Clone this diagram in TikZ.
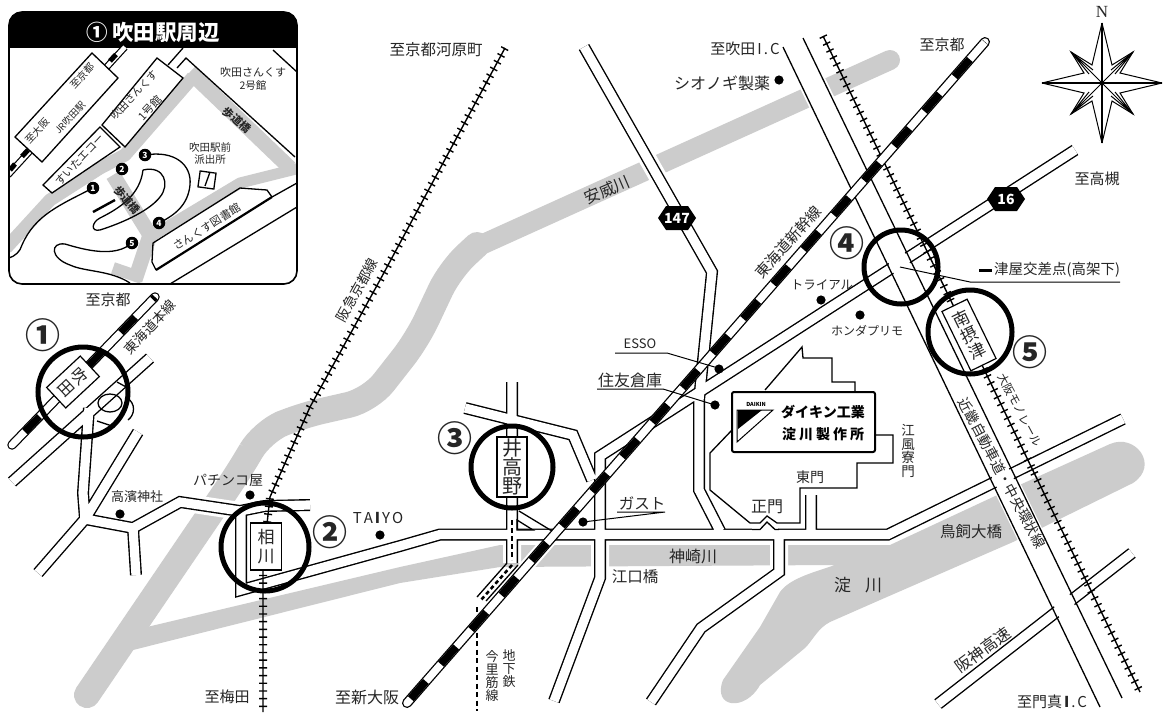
\documentclass[tikz,border=0pt]{standalone}
\usepackage{fontspec}
\setmainfont{Noto Sans CJK JP}
\newfontfamily\serifN{Liberation Serif}
\newcommand{\fs}[1]{\fontsize{#1}{#1}\selectfont}
\colorlet{riv}{black!20}
\colorlet{ink}{black!85}
\tikzset{
  txt/.style={inner sep=0pt,outer sep=0pt,text=ink,font=\fs{15}},
  txts/.style={inner sep=0pt,outer sep=0pt,text=ink,font=\fs{10.5}},
  vert/.style={inner sep=0pt,outer sep=0pt,text=ink,align=center,font=\fs{13.5}},
  num/.style={inner sep=0pt,outer sep=0pt,text=ink,font=\bfseries\fs{35}},
  ring/.style={draw=black,line width=5pt},
  stn/.style={draw=black,fill=white,line width=1.2pt,inner sep=0pt,align=center,text=ink,font=\fs{18}},
  dot/.style={fill=black},
  thin/.style={draw=black,line width=1.3pt},
  hexnum/.style={inner sep=0pt,text=white,font=\bfseries\itshape\fs{14}},
  idot/.style={circle,fill=black,inner sep=0pt,minimum size=12.5pt,text=white,font=\bfseries\fs{8.5}},
}
\def\roads{
 (584,47)--(712,272)--(699,400)--(699,490)--(720,531)
 (1075,150)--(600,456)--(600,578)--(554,701)
 (241,513)--(241,590)--(400,546)--(440,534.5)--(888,534.5)--(1123,419)
 (310,505)--(265,506)--(240,511)--(180,502)--(133,528)--(85,519)--(38,573)
 (133,528)--(136,575)
 (89,408)--(83,493)--(85,519)
 (85,519)--(138,432)
 (12,482)--(150,358)
 (512,382)--(512,563)
 (465,408)--(573,435)--(592,480)
 (779,534)--(779,572)--(701,628)--(651,702)
 (811,495)--(811,534)
 (1132,553)--(938,704)
}
\def\hwy{(793,42.5)--(1111,702.5)}
\def\mainrail{(407,703)--(985,42)}
\def\jrrail{(12,445)--(155,297)}
\def\kyotoline{(505,48)--(380,280)--(310,407)--(270,497)--(263,560)--(263,712)}
\def\monoline{(823,36)--(1140,692)}
\begin{document}
\begin{tikzpicture}[x=1pt,y=-1pt]
\useasboundingbox (0,0) rectangle (1166,713);
\fill[white] (0,0) rectangle (1166,713);
% rivers
\draw[riv,line width=26pt,line cap=round,rounded corners=22pt] (87,695)--(240,470)--(262,432)--(300,416)--(370,400)--(417,340)--(450,270)--(477,245);
\draw[riv,line width=20pt,line cap=round] (470,250)--(890,60);
\fill[riv] (130,642)--(147,627)--(400,567)--(500,545)--(890,545)--(993,497)--(1110,444)
 .. controls (1135,433) and (1160,465) .. (1133,483)
 --(1013,542)--(880,600)--(830,622) .. controls (818,628) and (813,640) .. (805,648)
 --(760,685) .. controls (745,712) and (712,708) .. (723,680)
 --(760,627)--(780,592) .. controls (790,578) and (815,572) .. (835,565)--(500,567)--(400,583)--(133,650)--cycle;
% casings over water
\draw[white,line width=27pt] \hwy;
\draw[white,line width=18pt] \roads;
\draw[white,line width=14pt] \mainrail;
% roads
\draw[black,line width=12pt] \roads;
\draw[white,line width=9.2pt] \roads;
% main gate notch
\fill[white] (752,527) rectangle (778,531.5);
\draw[thin] (752,529.5)--(760,529.5)--(767,522)--(775,529.5)--(779,529.5);
% highway
\draw[white,line width=19pt] \hwy;
\draw[thin] (783,47)--(1100,707);
\draw[thin] (803,38)--(1122,698);
% subway
\draw[black,line width=1.6pt,dash pattern=on 5pt off 3pt] (512,520)--(512,560);
\draw[black,line width=1.6pt,dash pattern=on 5pt off 3.5pt] (477,607)--(477,711);
\draw[thin] (507,563)--(477,597) (518,565)--(486,601);
\draw[black,line width=2.6pt,dash pattern=on 4pt off 3pt] (512,565)--(481,600);
\draw[thin] (517,520)--(533,530)--(517,530)--cycle (519,511)--(552,531);
% ticked lines
\draw[black,line width=1.4pt] \kyotoline;
\draw[black,line width=8pt,dash pattern=on 1.4pt off 6.3pt] \kyotoline;
\draw[black,line width=1.4pt] \monoline;
\draw[black,line width=8pt,dash pattern=on 1.4pt off 6.3pt] \monoline;
% rails
\draw[black,line width=10pt,line cap=round] \mainrail;
\draw[white,line width=7.4pt,line cap=round] \mainrail;
\draw[black,line width=7.6pt,dash pattern=on 23pt off 22.9pt,dash phase=40.2pt] \mainrail;
\draw[black,line width=9.5pt,line cap=round] \jrrail;
\draw[white,line width=7pt,line cap=round] \jrrail;
\draw[black,line width=7.2pt,dash pattern=on 21pt off 25pt,dash phase=27.5pt] \jrrail;
% details near station 1
\draw[thin] (110,403) ellipse (12 and 9);
\draw[thin] (97,421)--(115,427) (117,382)--(128,388)--(124,376);
\draw[thin] (127,398) .. controls (136,403) and (135,415) .. (128,420);
% Daikin grounds
\draw[thin] (855,392)--(855,382)--(832,382)--(832,358)--(803,358)--(802,347)--(765,390);
\draw[thin] (876,435)--(893,435)--(893,463)--(857,463)--(857,488)--(800,488)--(800,523)--(777,523)--(767,516)--(760,523)--(750,523)--(710,490)--(710,453)--(732,430);
% daikin box
\node[draw=black,fill=white,line width=2pt,rounded corners=2pt,minimum width=143pt,minimum height=60pt,inner sep=0pt] (dk) at (803.5,422) {};
\fill[black] (738,410)--(762,410)--(738,429)--cycle;
\draw[black,line width=1pt] (737,442)--(737,410)--(773,410)--cycle;
\node[inner sep=0pt,text=black,font=\bfseries\itshape\fs{5.5}] (dklogo) at (756,404.5) {DAIKIN};
\node[inner sep=0pt,text=black,font=\bfseries\fs{14}] (dk1) at (823,412) {ダイキン工業};
\node[inner sep=0pt,text=black,font=\bfseries\fs{14}] (dk2) at (823,434) {淀\kern3pt川\kern3pt製\kern3pt作\kern3pt所};
% stations
\node[stn,rotate=-47,minimum width=28pt,minimum height=46pt,text width=18pt,font=\fs{16}] (s1) at (73,382) {吹\\[1pt]田};
\node[stn,minimum width=31pt,minimum height=47pt,font=\fs{17},text width=20pt] (s2) at (266,546.5) {相\\[2pt]川};
\node[stn,minimum width=30pt,minimum height=60pt,text width=22pt,font=\fs{20}] (s3) at (512,467) {井\\[-1pt]高\\[-1pt]野};
\node[stn,rotate=26,minimum width=28pt,minimum height=66pt,text width=20pt,font=\fs{17}] (s5) at (969,335) {南\\[1pt]摂\\[1pt]津};
% rings
\draw[ring] (83,392) circle (45);
\draw[ring] (265,547) circle (44);
\draw[ring] (512,467) circle (41);
\draw[ring] (901,267) circle (37);
\draw[ring] (970,332) circle (42);
\node[num] (c1) at (43,335) {①};
\node[num] (c2) at (330,532) {②};
\node[num] (c3) at (455,438) {③};
\node[num] (c4) at (847,243) {④};
\node[num] (c5) at (1030,352) {⑤};
% hex signs
\fill[black] (658,218)--(666,206)--(688,206)--(696,218)--(688,230)--(666,230)--cycle;
\node[hexnum] (h147) at (677,218) {147};
\fill[black] (987,199)--(995,187)--(1017,187)--(1025,199)--(1017,211)--(995,211)--cycle;
\node[hexnum] (h16) at (1006,199) {16};
% dots
\foreach \x/\y in {779/80,821/300,860/315,719/369,715/405,583/522,380/535,250/495,120/514}{\fill[dot] (\x,\y) circle (4.6);}
% leaders
\draw[black,line width=1pt] (615,353)--(667,353)--(718,368);
\draw[black,line width=1pt] (597,389)--(663,389)--(715,405);
\draw[black,line width=1pt] (617,512)--(665,512)--(583,522);
\draw[black,line width=1pt] (900,267)--(970,282)--(1120,282);
\draw[black,line width=3pt] (979,270)--(992,270);
% labels
\node[txt,font=\fs{15.5}] (l1) at (436,50) {至京都河原町};
\node[txt] (l2) at (745,49) {至吹田\kern2pt I\kern2pt.\kern2pt C};
\node[txt,font=\fs{16}] (l3) at (722,83) {シオノギ製薬};
\node[txt] (l4) at (942,45) {至京都};
\node[txt] (l5) at (1097,179) {至高槻};
\node[txt,font=\fs{14.5}] (l6) at (1057,270) {津屋交差点(高架下)};
\node[txt,font=\fs{12.5}] (l7) at (822,285) {トライアル};
\node[txt,font=\fs{12}] (l8) at (867,331) {ホンダプリモ};
\node[txt,font=\fs{13}] (l9) at (640,344) {ESSO};
\node[txt,font=\fs{16}] (l10) at (630,380) {住友倉庫};
\node[vert] (l11) at (908,451) {江\\風\\寮\\門};
\node[txt,font=\fs{14}] (l12) at (810,477) {東門};
\node[txt,font=\fs{16}] (l13) at (767,507) {正門};
\node[txt,font=\fs{15.5}] (l14) at (642,503) {ガスト};
\node[txt,font=\fs{15.5}] (l15) at (635,577) {江口橋};
\node[txt,font=\fs{16}] (l16) at (693,556) {神崎川};
\node[vert,font=\fs{13}] (l17) at (509,669) {地\\下\\鉄};
\node[vert,font=\fs{13}] (l18) at (492,676) {今\\里\\筋\\線};
\node[txt] (l19) at (378,518) {T\kern2pt A\kern2pt\textbf{I}\kern2pt Y\kern2pt O};
\node[txt,font=\fs{14}] (l20) at (228,480) {パチンコ屋};
\node[txt,font=\fs{13}] (l21) at (137,497) {高濱神社};
\node[txt] (l22) at (108,300) {至京都};
\node[txt] (l23) at (227,697) {至梅田};
\node[txt,font=\fs{16}] (l24) at (367,697) {至新大阪};
\node[txt,rotate=47,font=\fs{13.5}] (l25) at (150,327) {東海道本線};
\node[txt,rotate=61,font=\fs{14}] (l26) at (357,290) {阪急京都線};
\node[txt,rotate=48] (l27) at (788,242) {東海道新幹線};
\node[txt,rotate=23,font=\fs{16}] (l28) at (607,190) {安威川};
\node[txt,font=\fs{17}] (l29) at (858,585) {淀\kern14pt川};
\node[txt,font=\fs{15.5}] (l30) at (971,532) {鳥飼大橋};
\node[txt,rotate=36,font=\fs{16}] (l31) at (983,650) {阪神高速};
\node[txt] (l32) at (1052,702) {至門真\kern2pt\textbf{I}\kern2pt.\kern2pt C};
\node[txt,rotate=-62,font=\fs{14}] (l33) at (1002,473) {近畿自動車道・中央環状線};
\node[txt,rotate=-62,font=\fs{11.5}] (l34) at (1020,410) {大阪モノレール};
\node[inner sep=0pt,text=ink,font=\serifN\fs{17}] (ln) at (1102,12) {N};
% compass
\begin{scope}[shift={(1102,83)}]
\foreach \a in {0,90,180,270}{
 \begin{scope}[rotate=\a]
 \draw[black,line width=1pt] (0,-60)--(10,-18)--(31,-31)--(18,-10)--(60,0);
 \draw[black,line width=1.8pt] (0,0)--(0,-60);
 \draw[black,line width=1pt] (0,0)--(31,-31) (9,-13)--(31,-31) (13,-9)--(31,-31);
 \end{scope}}
\end{scope}
% inset
\fill[white,rounded corners=13pt] (9,12) rectangle (297,284);
\begin{scope}
\clip[rounded corners=13pt] (9,12) rectangle (297,284);
\fill[black] (9,12) rectangle (297,48);
\draw[riv,line width=13pt,line join=round] (6,248)--(50,200)--(100,168)--(125,155)--(193,77);
\draw[riv,line width=15pt,line join=round] (190,72)--(290,168);
\draw[riv,line width=11pt,line join=round] (300,168)--(240,183)--(150,237);
\draw[riv,line width=15pt,line join=round] (113,175)--(150,235)--(135,280);
\draw[riv,line width=12pt] (113,268)--(142,278);
% outlines
\draw[thin] (177,68)--(186,58)--(295,157);
\draw[thin] (273,50)--(297,72);
\draw[thin] (153,243)--(240,188)--(267,190)--(272,197);
\draw[thin] (153,243)--(152,262)--(156,270);
\draw[black,line width=2.2pt] (156,270)--(272,197);
\draw[thin] (272,197)--(297,183);
\draw[thin] (170,284)--(297,207);
\draw[thin] (168,65)--(183,48);
% rail
\draw[black,line width=7pt] (125,47)--(8,175);
\draw[white,line width=4.6pt] (125,47)--(8,175);
\draw[black,line width=5pt] (110,61)--(116,54.5) (28,150)--(22,156.5) (15,164)--(10,170);
% buildings
\draw[thin,fill=white] (92,53)--(118,78)--(42,162)--(15,137)--cycle;
\draw[thin,fill=white] (102,125)--(157,58)--(183,78)--(125,147)--cycle;
\draw[thin,fill=white] (43,185)--(100,127)--(120,147)--(52,193)--cycle;
% bus loops
\draw[thin] (145,155) .. controls (175,150) and (192,165) .. (190,185) .. controls (188,205) and (175,215) .. (159,223);
\draw[thin] (143,170) .. controls (165,165) and (170,185) .. (160,197) .. controls (150,210) and (125,222) .. (100,230) .. controls (90,232) and (92,222) .. (100,218) .. controls (120,208) and (140,195) .. (143,170);
\draw[black,line width=2.4pt] (93,212)--(115,200);
\draw[thin] (93,188) .. controls (60,205) and (35,215) .. (22,245) .. controls (20,252) and (15,256) .. (9,258);
\draw[thin] (132,243) .. controls (115,258) and (85,250) .. (65,244) .. controls (50,242) and (50,258) .. (70,265) .. controls (85,272) and (110,270) .. (130,283);
% small office mark
\draw[thin,rotate around={-8:(207,180)}] (199,172) rectangle (215,188);
\draw[thin] (205,186)--(210,172);
\node[idot] (i1) at (93,188) {1};
\node[idot] (i2) at (122,169) {2};
\node[idot] (i3) at (145,155) {3};
\node[idot] (i4) at (159,223) {4};
\node[idot] (i5) at (132,243) {5};
\end{scope}
\draw[black,line width=1.6pt,rounded corners=13pt] (9,12) rectangle (297,284);
\node[inner sep=0pt,text=white,font=\bfseries\fs{21.5}] (it) at (153,32) {①\kern5pt吹田駅周辺};
\node[txts,rotate=47,font=\fs{10}] (i6) at (37,131) {至大阪};
\node[txts,rotate=47,font=\fs{10}] (i7) at (82,76) {至京都};
\node[txts,rotate=47,font=\fs{9.5}] (i8) at (70,118) {JR吹田駅};
\node[txts,rotate=47] (i9) at (134,95) {吹田さんくす};
\node[txts,rotate=47,font=\fs{11}] (i10) at (150,108) {1号館};
\node[txts,rotate=47,font=\fs{11}] (i11) at (80,160) {すいたエコー};
\node[txts,font=\fs{11}] (i12) at (253,72) {吹田さんくす};
\node[txts] (i13) at (253,86) {2号館};
\node[txts,rotate=-42,font=\bfseries\fs{11}] (i14) at (237,120) {歩道橋};
\node[txts,rotate=-50,font=\bfseries\fs{11}] (i15) at (127,200) {歩道橋};
\node[txts] (i16) at (210,147) {吹田駅前};
\node[txts] (i17) at (210,160) {派出所};
\node[txts,rotate=32,font=\fs{11}] (i18) at (207,227) {さんくす図書館};
\end{tikzpicture}
\end{document}
